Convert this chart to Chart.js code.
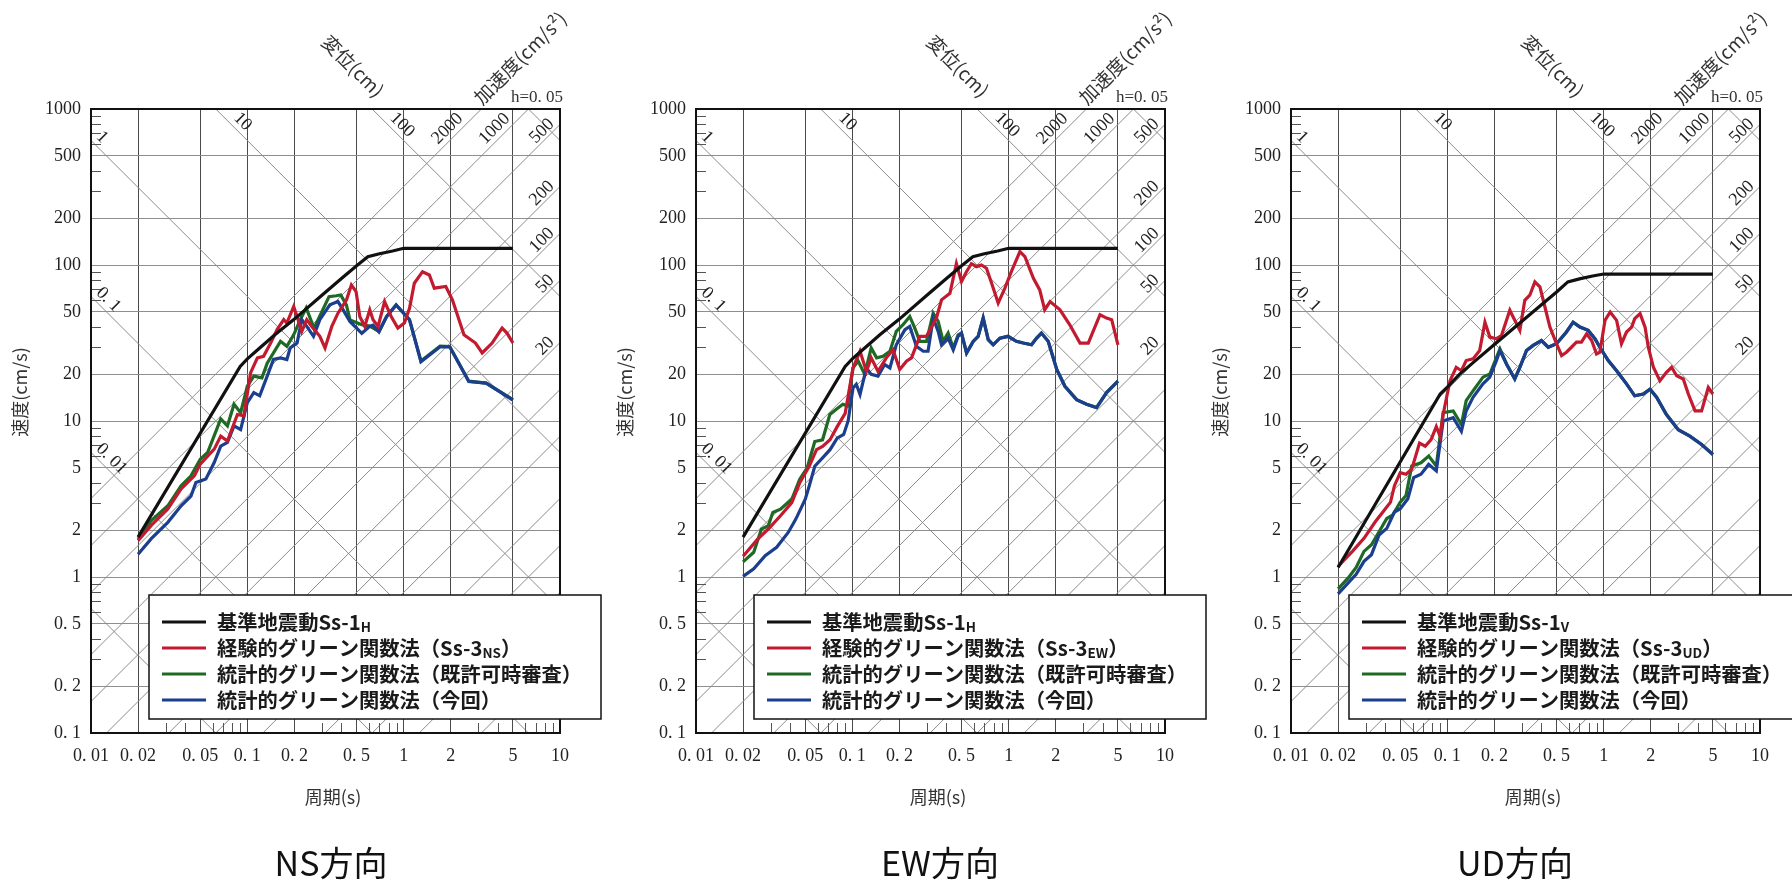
<!DOCTYPE html>
<html>
<head>
<meta charset="utf-8">
<script src="https://cdn.jsdelivr.net/npm/chart.js@4.4.1/dist/chart.umd.min.js"></script>
<style>
  html, body { margin: 0; padding: 0; background: #fff; }
  body { width: 1792px; height: 884px; position: relative; overflow: hidden; }
  canvas { position: absolute; top: 0; }
</style>
</head>
<body>
<canvas id="ns"></canvas>
<canvas id="ew"></canvas>
<canvas id="ud"></canvas>
<script>
// axis ticks
const xTicks = [0.01, 0.02, 0.05, 0.1, 0.2, 0.5, 1, 2, 5, 10];
const xTickLabels = ['0. 01', '0. 02', '0. 05', '0. 1', '0. 2', '0. 5', '1', '2', '5', '10'];
const yTicks = [0.1, 0.2, 0.5, 1, 2, 5, 10, 20, 50, 100, 200, 500, 1000];
const yTickLabels = ['0. 1', '0. 2', '0. 5', '1', '2', '5', '10', '20', '50', '100', '200', '500', '1000'];
const minorMult = [3, 4, 6, 7, 8, 9];

// tripartite reference lines (displacement cm, acceleration cm/s2)
const dispLines = [0.001, 0.01, 0.1, 1, 10, 100, 1000];
const accLines = [0.2, 0.5, 1, 2, 5, 10, 20, 50, 100, 200, 500, 1000, 2000];
const dispLabels = [[1, '1', 'left'], [0.1, '0. 1', 'left'], [0.01, '0. 01', 'left'], [10, '10', 'top'], [100, '100', 'top']];
const accLabels = [[2000, '2000', 'top'], [1000, '1000', 'top'], [500, '500', 'right'], [200, '200', 'right'],
                   [100, '100', 'right'], [50, '50', 'right'], [20, '20', 'right']];

// series: [period (s), pseudo velocity (cm/s)]
const ss1H = [[0.02,1.8],[0.09,22.4],[0.1,25],[0.12,29.4],[0.15,35.7],[0.2,45],[0.3,64],[0.4,82],[0.5,99],[0.59,113],
  [0.7,118],[0.85,123],[1,128],[5,128]];
const ss1V = [[0.02,1.15],[0.09,14.9],[0.1,16.5],[0.12,20],[0.15,24.2],[0.2,30.9],[0.3,43.6],[0.4,55.6],[0.5,67.2],[0.59,78],
  [0.7,81.5],[0.85,85],[1,87.5],[5,87.5]];

const nsRed = [[0.02,1.71],[0.0243,2.14],[0.031,2.73],[0.0377,3.67],[0.0458,4.45],[0.05,5.29],[0.0614,6.6],[0.0676,8.0],
  [0.0746,7.45],[0.0864,11.0],[0.095,10.8],[0.105,20.4],[0.116,25.4],[0.127,26],[0.141,31.6],[0.155,38.5],[0.171,44.6],
  [0.179,42.4],[0.198,54.2],[0.208,46.8],[0.223,37.5],[0.24,44.6],[0.26,40],[0.291,34.9],[0.314,29.4],[0.347,40.4],
  [0.38,49.1],[0.431,59.8],[0.463,74.5],[0.496,67.6],[0.524,46.8],[0.564,40.4],[0.607,51.6],[0.637,44.6],[0.686,40.4],
  [0.755,58.3],[0.832,46.8],[0.918,39.4],[1.01,42.4],[1.09,52.8],[1.17,76.4],[1.32,90.6],[1.46,86.3],[1.57,71],
  [1.86,72.8],[2.05,59.8],[2.43,35.7],[2.88,31.6],[3.18,27.3],[3.68,31.6],[4.26,39.4],[4.58,36.6],[5,31.6]];
const nsGreen = [[0.02,1.75],[0.0243,2.3],[0.031,2.86],[0.0377,3.85],[0.0436,4.45],[0.05,5.69],[0.0557,6.28],[0.0676,10.3],
  [0.0746,9.3],[0.0822,12.8],[0.0906,11.3],[0.1,16.7],[0.11,19.4],[0.124,18.9],[0.134,23.5],[0.151,28.6],[0.163,32.4],
  [0.179,30.1],[0.198,35.7],[0.218,44.6],[0.238,53],[0.267,39.4],[0.333,62.7],[0.37,63.5],[0.396,64.3],[0.43,55.5],
  [0.454,44.4],[0.54,41.4],[0.607,40.6],[0.695,37.5],[0.778,46.8],[0.895,55.4],[1.09,44.6],[1.29,24.2],[1.71,30.2],
  [1.97,30],[2.61,18],[3.37,17.5],[5,13.7]];
const nsBlue = [[0.02,1.4],[0.0243,1.76],[0.031,2.24],[0.0377,2.86],[0.0436,3.3],[0.0469,4.03],[0.0543,4.25],[0.0614,5.42],
  [0.0676,6.9],[0.0746,7.3],[0.0822,9.3],[0.0906,8.8],[0.1,13.1],[0.11,15.2],[0.12,14.5],[0.134,19.4],[0.147,24.8],
  [0.163,25.4],[0.179,24.8],[0.188,29.4],[0.208,31.6],[0.223,44.6],[0.24,40.4],[0.265,34.9],[0.291,44.6],[0.337,55.6],
  [0.38,58.3],[0.41,51.6],[0.453,43.5],[0.54,36.5],[0.607,40.4],[0.637,41.2],[0.695,37.3],[0.778,46.7],[0.895,55.5],
  [1.09,44.6],[1.29,24],[1.71,29.9],[1.97,29.9],[2.61,17.9],[3.37,17.5],[5,13.6]];

const ewRed = [[0.02,1.36],[0.0248,1.75],[0.029,2.03],[0.0347,2.47],[0.041,3.0],[0.046,4.0],[0.053,5.13],[0.059,6.55],
  [0.0645,6.87],[0.072,7.58],[0.08,9.2],[0.09,11.2],[0.101,21.9],[0.112,28],[0.123,20.8],[0.132,25.4],[0.146,20.8],
  [0.165,25.4],[0.182,28.6],[0.201,21.4],[0.222,24.2],[0.239,25.4],[0.27,34.9],[0.298,34.9],[0.345,45.7],[0.372,59.8],
  [0.421,65.9],[0.463,102],[0.499,78.3],[0.537,90.6],[0.578,102],[0.622,97.6],[0.67,100],[0.721,95.3],[0.778,76.4],
  [0.857,57],[0.946,71],[1.04,90.6],[1.18,122],[1.27,113],[1.44,82.2],[1.58,69.2],[1.7,51.6],[1.84,58.3],[2.13,51.6],
  [2.46,41.4],[2.86,31.6],[3.23,31.6],[3.84,48],[4.23,45.7],[4.56,44.6],[5,30.8]];
const ewGreen = [[0.02,1.25],[0.0234,1.44],[0.0262,2.03],[0.029,2.13],[0.031,2.59],[0.0347,2.72],[0.041,3.15],[0.046,4.22],
  [0.0514,5.0],[0.0575,7.39],[0.0645,7.58],[0.0718,11.0],[0.079,11.9],[0.087,12.8],[0.093,12.5],[0.101,21.9],[0.109,24.2],
  [0.12,19.9],[0.132,29.4],[0.143,25.4],[0.157,26],[0.174,28],[0.191,37.5],[0.211,41.4],[0.233,46.8],[0.251,39.4],
  [0.27,32.4],[0.298,32.4],[0.329,49.1],[0.354,43.5],[0.381,32.4],[0.41,36.6],[0.442,29.4],[0.475,35.7],[0.499,36.6],
  [0.538,27.3],[0.593,32.4],[0.638,34.9],[0.687,45.7],[0.74,33.2],[0.796,30.8],[0.879,34],[0.99,34.9],[1.12,32.4],
  [1.24,31.6],[1.4,30.8],[1.51,34],[1.62,36.6],[1.79,32.4],[2.03,21.4],[2.29,16.7],[2.72,13.7],[3.15,12.8],[3.65,12.2],
  [4.23,15.2],[5,18]];
const ewBlue = [[0.02,1.01],[0.0234,1.13],[0.0277,1.37],[0.0328,1.55],[0.0389,1.93],[0.0435,2.35],[0.05,3.15],[0.053,3.83],
  [0.0575,5.13],[0.0645,5.8],[0.072,6.55],[0.08,7.77],[0.088,8.2],[0.094,10],[0.101,16.3],[0.106,17.2],[0.112,14.8],
  [0.123,21.9],[0.132,19.9],[0.146,19.4],[0.161,23],[0.174,21.9],[0.191,30.8],[0.217,38.5],[0.233,40.4],[0.257,30.1],
  [0.284,28],[0.305,28],[0.329,45.7],[0.354,37.5],[0.372,30.8],[0.41,34],[0.442,28.6],[0.475,34.9],[0.499,36.6],
  [0.538,27.3],[0.593,32.4],[0.638,34.9],[0.687,45.7],[0.74,33.2],[0.796,30.8],[0.879,34],[0.99,34.9],[1.12,32.4],
  [1.24,31.6],[1.4,30.8],[1.51,34],[1.62,36.6],[1.79,32.4],[2.03,21.4],[2.29,16.7],[2.72,13.7],[3.15,12.8],[3.65,12.2],
  [4.23,15.2],[5,18]];

const udRed = [[0.02,1.17],[0.0247,1.46],[0.0293,1.77],[0.0346,2.26],[0.0387,2.61],[0.0433,3.02],[0.0459,3.85],[0.05,4.67],
  [0.0544,4.56],[0.0592,4.91],[0.0664,7.22],[0.0722,6.89],[0.0787,7.59],[0.085,9.2],[0.09,7.95],[0.094,11],[0.104,18.1],
  [0.114,22.1],[0.123,21],[0.132,24.4],[0.146,25],[0.161,28.3],[0.174,43],[0.187,34.5],[0.206,33.7],[0.222,35.3],
  [0.251,51.3],[0.27,44.2],[0.291,38.1],[0.313,59.4],[0.337,64],[0.363,78],[0.391,72.4],[0.421,53.8],[0.453,40],
  [0.499,31.3],[0.538,26.3],[0.578,27.6],[0.622,29.7],[0.67,32],[0.721,32],[0.778,36.2],[0.838,32.8],[0.9,26.9],
  [0.946,27.6],[1.02,44.2],[1.1,50],[1.21,44.2],[1.3,31.3],[1.4,37.2],[1.51,40],[1.58,45.3],[1.71,48.8],[1.84,40],
  [1.93,29.7],[2.08,22.1],[2.29,18.1],[2.52,20.5],[2.72,22.1],[2.93,19.5],[3.23,18.6],[3.48,14.9],[3.84,11.6],
  [4.23,11.6],[4.67,16.4],[5,14.9]];
const udGreen = [[0.02,0.84],[0.0233,0.99],[0.0261,1.15],[0.0293,1.46],[0.0327,1.61],[0.0366,1.95],[0.041,2.37],[0.0446,2.49],
  [0.05,3.02],[0.0544,3.33],[0.0592,5.15],[0.0678,5.4],[0.076,5.96],[0.085,5.15],[0.094,11.3],[0.109,11.6],[0.123,9.5],
  [0.132,13.5],[0.146,15.6],[0.169,19.1],[0.187,20],[0.217,29],[0.239,23.2],[0.27,18.6],[0.291,22.1],[0.321,28.3],
  [0.354,30.5],[0.4,32.8],[0.442,29.7],[0.499,31.3],[0.578,37.2],[0.638,43],[0.705,40],[0.796,38.1],[0.879,33.7],
  [0.946,29.7],[1.07,24.4],[1.21,21],[1.4,17.3],[1.58,14.5],[1.79,14.9],[1.98,16],[2.18,14.2],[2.52,11],[3,8.8],
  [3.56,8.0],[4.23,7.07],[5,6.1]];
const udBlue = [[0.02,0.78],[0.0233,0.92],[0.0261,1.04],[0.0293,1.26],[0.0327,1.39],[0.0366,1.86],[0.041,2.05],[0.0459,2.61],
  [0.05,2.74],[0.0559,3.17],[0.0609,4.34],[0.0678,4.56],[0.076,5.27],[0.085,4.79],[0.094,10],[0.109,10.5],[0.123,8.6],
  [0.132,11.6],[0.146,14.2],[0.169,17.3],[0.187,19.1],[0.206,24.4],[0.217,28.3],[0.239,23.2],[0.27,18.6],[0.291,22.1],
  [0.321,28.3],[0.354,30.5],[0.4,32.8],[0.442,29.7],[0.499,31.3],[0.578,37.2],[0.638,43],[0.705,40],[0.796,38.1],
  [0.879,33.7],[0.946,29.7],[1.07,24.4],[1.21,21],[1.4,17.3],[1.58,14.5],[1.79,14.9],[1.98,16],[2.18,14.2],[2.52,11],
  [3,8.8],[3.56,8.0],[4.23,7.07],[5,6.1]];

const colors = ['#111111', '#c21b30', '#1e6a24', '#1b3e8e'];
const TWO_PI = 2 * Math.PI;
const PLOT_TOP = 109, PLOT_BOTTOM = 733, H = 884;

const panels = [
  { id: 'ns', title: 'NS方向', left: 0, width: 640, plotL: 91, plotR: 560, titleX: 331,
    series: [ss1H, nsRed, nsGreen, nsBlue], subs: ['H', 'NS'] },
  { id: 'ew', title: 'EW方向', left: 600, width: 640, plotL: 696, plotR: 1165, titleX: 940,
    series: [ss1H, ewRed, ewGreen, ewBlue], subs: ['H', 'EW'] },
  { id: 'ud', title: 'UD方向', left: 1190, width: 602, plotL: 1291, plotR: 1760, titleX: 1515,
    series: [ss1V, udRed, udGreen, udBlue], subs: ['V', 'UD'] }
];

function rotText(ctx, text, cx, cy, ang) {
  ctx.save();
  ctx.translate(cx, cy);
  ctx.rotate(ang);
  ctx.fillText(text, 0, 0);
  ctx.restore();
}

function makePlugin(p) {
  return {
    id: 'deco_' + p.id,
    beforeDatasetsDraw(chart) {
      const { ctx, chartArea: a, scales: { x, y } } = chart;
      ctx.save();
      ctx.beginPath();
      ctx.rect(a.left, a.top, a.right - a.left, a.bottom - a.top);
      ctx.clip();

      // diagonal lines
      ctx.strokeStyle = '#8c8c8c';
      ctx.lineWidth = 1;
      const seg = (t1, v1, t2, v2) => {
        ctx.beginPath();
        ctx.moveTo(x.getPixelForValue(t1), y.getPixelForValue(v1));
        ctx.lineTo(x.getPixelForValue(t2), y.getPixelForValue(v2));
        ctx.stroke();
      };
      dispLines.forEach(d => seg(0.01, TWO_PI * d / 0.01, 10, TWO_PI * d / 10));
      accLines.forEach(A => seg(0.01, A * 0.01 / TWO_PI, 10, A * 10 / TWO_PI));

      // minor ticks on left and bottom
      ctx.strokeStyle = '#555';
      minorMult.forEach(m => {
        [0.1, 1, 10, 100].forEach(k => {
          const py = Math.round(y.getPixelForValue(m * k)) + 0.5;
          ctx.beginPath(); ctx.moveTo(a.left, py); ctx.lineTo(a.left + 10, py); ctx.stroke();
        });
        [0.01, 0.1, 1].forEach(k => {
          const px = Math.round(x.getPixelForValue(m * k)) + 0.5;
          ctx.beginPath(); ctx.moveTo(px, a.bottom); ctx.lineTo(px, a.bottom - 10); ctx.stroke();
        });
      });

      // line labels
      ctx.font = '18px "Liberation Serif"';
      ctx.fillStyle = '#222';
      ctx.textAlign = 'center';
      ctx.textBaseline = 'middle';
      const s = Math.SQRT1_2;
      dispLabels.forEach(([d, text, edge]) => {
        let px, py;
        if (edge === 'left') { px = a.left; py = y.getPixelForValue(TWO_PI * d / 0.01); }
        else { px = x.getPixelForValue(TWO_PI * d / 1000); py = a.top; }
        const along = ctx.measureText(text).width / 2 + (edge === 'top' ? 19 : 1);
        const off = 10;
        rotText(ctx, text, px + (along + off) * s, py + (along - off) * s, Math.PI / 4);
      });
      accLabels.forEach(([A, text, edge]) => {
        let px, py, along, off;
        const hw = ctx.measureText(text).width / 2;
        if (edge === 'top') { px = x.getPixelForValue(TWO_PI * 1000 / A); py = a.top; along = hw + 20; off = 10; }
        else { px = a.right; py = y.getPixelForValue(A * 10 / TWO_PI); along = hw + 4; off = 8; }
        rotText(ctx, text, px - (along + off) * s, py + (along - off) * s, -Math.PI / 4);
      });
      ctx.restore();
    },
    afterDraw(chart) {
      const { ctx, chartArea: a, scales: { x } } = chart;
      ctx.save();
      // frame
      ctx.strokeStyle = '#111';
      ctx.lineWidth = 2;
      ctx.strokeRect(a.left, a.top, a.right - a.left, a.bottom - a.top);

      // texts around the plot
      ctx.fillStyle = '#333';
      ctx.textAlign = 'center';
      ctx.textBaseline = 'middle';
      ctx.font = '19px "Noto Sans CJK JP"';
      rotText(ctx, '変位(cm)', a.left + 262, 66, Math.PI / 4);
      rotText(ctx, '加速度(cm/s²)', a.left + 429, 58, -Math.PI / 4);
      ctx.font = '18px "Noto Sans CJK JP"';
      rotText(ctx, '速度(cm/s)', a.left - 71, 392, -Math.PI / 2);
      ctx.fillText('周期(s)', a.left + 242, 797);
      ctx.textAlign = 'right';
      ctx.font = '17px "Liberation Serif"';
      ctx.fillText('h=0. 05', a.right + 3, 98);

      ctx.fillStyle = '#111';
      ctx.textAlign = 'center';
      ctx.font = '34px "Noto Sans CJK JP"';
      ctx.fillText(p.title, p.titleX - p.left, 863);

      // legend
      const lx = Math.round(x.getPixelForValue(0.02)) + 11, ly = 595, lw = 452, lh = 124;
      ctx.fillStyle = '#fff';
      ctx.fillRect(lx, ly, lw, lh);
      ctx.strokeStyle = '#111';
      ctx.lineWidth = 1.5;
      ctx.strokeRect(lx, ly, lw, lh);
      const rows = [
        ['基準地震動Ss-1', p.subs[0], ''],
        ['経験的グリーン関数法（Ss-3', p.subs[1], '）'],
        ['統計的グリーン関数法（既許可時審査）', '', ''],
        ['統計的グリーン関数法（今回）', '', '']
      ];
      const rowY = [622, 648, 674, 700];
      const big = 'bold 20.3px "Noto Sans CJK JP"', small = 'bold 13.5px "Noto Sans CJK JP"';
      ctx.textAlign = 'left';
      rows.forEach((r, i) => {
        const yy = rowY[i];
        ctx.strokeStyle = colors[i];
        ctx.lineWidth = 3.2;
        ctx.beginPath(); ctx.moveTo(lx + 13, yy); ctx.lineTo(lx + 57, yy); ctx.stroke();
        ctx.fillStyle = '#1a1a1a';
        let tx = lx + 68;
        ctx.font = big;
        ctx.fillText(r[0], tx, yy);
        tx += ctx.measureText(r[0]).width;
        if (r[1]) {
          ctx.font = small;
          ctx.fillText(r[1], tx, yy + 5);
          tx += ctx.measureText(r[1]).width;
        }
        if (r[2]) {
          ctx.font = big;
          ctx.fillText(r[2], tx, yy);
        }
      });
      ctx.restore();
    }
  };
}

function makeChart(p) {
  const canvas = document.getElementById(p.id);
  canvas.width = p.width;
  canvas.height = H;
  canvas.style.left = p.left + 'px';
  const plotL = p.plotL - p.left, plotR = p.plotR - p.left;
  const xAxisH = 40;
  new Chart(canvas, {
    type: 'line',
    data: {
      datasets: p.series.map((arr, i) => ({
        data: arr.map(([t, v]) => ({ x: t, y: v })),
        borderColor: colors[i],
        borderWidth: 3.2,
        pointRadius: 0,
        tension: 0,
        fill: false,
        order: [0, 1, 3, 2][i]
      }))
    },
    options: {
      responsive: false,
      animation: false,
      layout: { padding: { left: 0, top: PLOT_TOP, right: p.width - plotR, bottom: H - PLOT_BOTTOM - xAxisH } },
      plugins: { legend: { display: false }, tooltip: { enabled: false } },
      scales: {
        x: {
          type: 'logarithmic', min: 0.01, max: 10,
          afterFit: s => { s.height = xAxisH; },
          afterBuildTicks: s => { s.ticks = xTicks.map(v => ({ value: v })); },
          ticks: {
            autoSkip: false, maxRotation: 0, minRotation: 0, padding: 12,
            color: '#222', font: { family: 'Liberation Serif', size: 18 },
            callback: (v, i) => xTickLabels[i]
          },
          grid: { color: '#4a4a4a', lineWidth: 1, drawTicks: false },
          border: { display: false }
        },
        y: {
          type: 'logarithmic', min: 0.1, max: 1000,
          afterFit: s => { s.width = plotL; },
          afterBuildTicks: s => { s.ticks = yTicks.map(v => ({ value: v })); },
          ticks: {
            autoSkip: false, padding: 10,
            color: '#222', font: { family: 'Liberation Serif', size: 18 },
            callback: (v, i) => yTickLabels[i]
          },
          grid: { color: '#8e8e8e', lineWidth: 1, drawTicks: false },
          border: { display: false }
        }
      }
    },
    plugins: [makePlugin(p)]
  });
}

panels.forEach(makeChart);
</script>
</body>
</html>
